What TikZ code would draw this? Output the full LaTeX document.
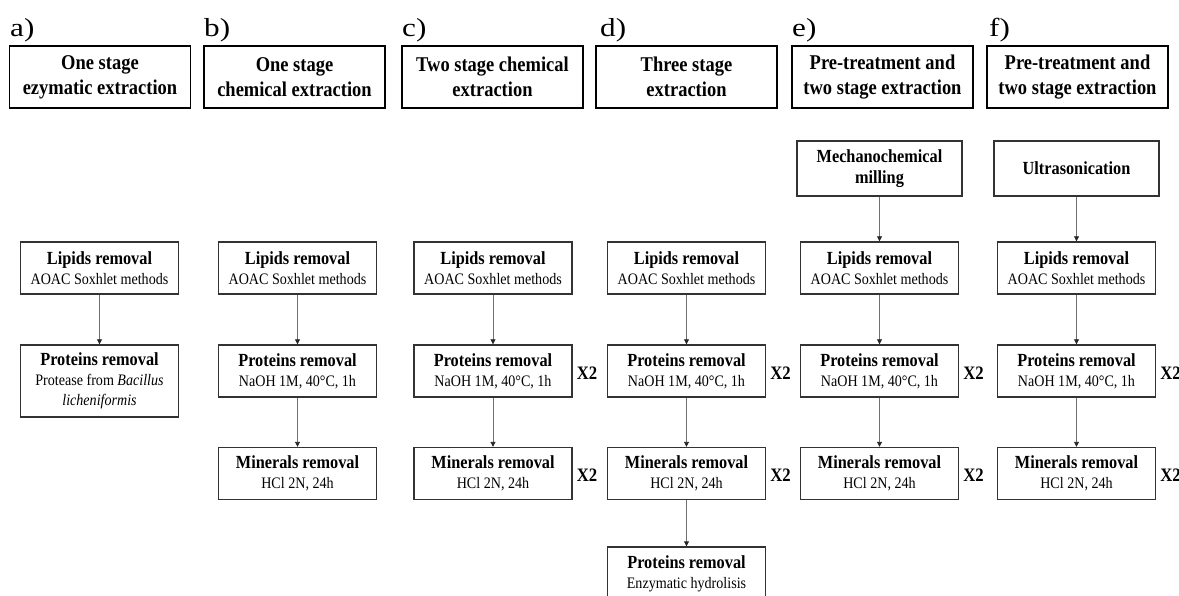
\documentclass[tikz,border=0pt]{standalone}
\usepackage{fontspec}
\setmainfont{Liberation Serif}[FakeStretch=0.88]
\newfontfamily\lblfont{Liberation Serif}[FakeStretch=1.2]
\usetikzlibrary{arrows.meta}
\definecolor{boxline}{HTML}{333333}
\definecolor{arrline}{HTML}{707070}
\tikzset{
  hdr/.style={draw=black, line width=1.2pt, minimum width=181pt, minimum height=62pt, align=center,
    font=\bfseries\fontsize{21}{25}\selectfont, inner sep=0pt},
  stepbox/.style={draw=boxline, line width=1.4pt, minimum width=158pt, minimum height=52pt, align=center,
    font=\fontsize{16}{20}\selectfont, inner sep=0pt},
  prebox/.style={stepbox, minimum width=165pt, minimum height=55pt, font=\bfseries\fontsize{18.5}{21.5}\selectfont},
  lbl/.style={anchor=base west, font=\lblfont\fontsize{26}{28}\selectfont, inner sep=0pt},
  rep/.style={anchor=west, font=\bfseries\fontsize{19}{20}\selectfont, inner sep=0pt},
  arr/.style={draw=arrline, line width=0.9pt, -{Triangle[length=5pt,width=5pt,color=black!85]}},
}
\newcommand{\ttl}[1]{{\bfseries\fontsize{18.5}{20}\selectfont #1}}
\begin{document}
\begin{tikzpicture}[x=1pt,y=-1pt]
\useasboundingbox (0,0) rectangle (1179,596);
\clip (0,0) rectangle (1179,596);
% labels
\node[lbl] (la) at (10,36.5) {a)};
\node[lbl] (lb) at (204,36.5) {b)};
\node[lbl] (lc) at (402,36.5) {c)};
\node[lbl] (ld) at (600,36.5) {d)};
\node[lbl] (le) at (792,36.5) {e)};
\node[lbl] (lf) at (989,36.5) {f)};
% headers
\node[hdr] (ha) at (100,77) {One stage\\ezymatic extraction};
\node[hdr] (hb) at (294.5,77) {One stage\\chemical extraction};
\node[hdr] (hc) at (492.5,77) {Two stage chemical\\extraction};
\node[hdr] (hd) at (686.5,77) {Three stage\\extraction};
\node[hdr] (he) at (882.5,77) {Pre-treatment and\\two stage extraction};
\node[hdr] (hf) at (1077.5,77) {Pre-treatment and\\two stage extraction};
% a
\node[stepbox] (a1) at (99.5,268) {\ttl{Lipids removal}\\AOAC Soxhlet methods};
\node[stepbox, minimum height=72pt] (a2) at (99.5,381) {\ttl{Proteins removal}\\Protease from \textit{Bacillus}\\\textit{licheniformis}};
\draw[arr] (a1) -- (a2);
% b
\node[stepbox] (b1) at (297.5,268) {\ttl{Lipids removal}\\AOAC Soxhlet methods};
\node[stepbox] (b2) at (297.5,371) {\ttl{Proteins removal}\\NaOH 1M, 40°C, 1h};
\node[stepbox] (b3) at (297.5,473.5) {\ttl{Minerals removal}\\HCl 2N, 24h};
\draw[arr] (b1) -- (b2);
\draw[arr] (b2) -- (b3);
% c
\node[stepbox] (c1) at (493,268) {\ttl{Lipids removal}\\AOAC Soxhlet methods};
\node[stepbox] (c2) at (493,371) {\ttl{Proteins removal}\\NaOH 1M, 40°C, 1h};
\node[stepbox] (c3) at (493,473.5) {\ttl{Minerals removal}\\HCl 2N, 24h};
\draw[arr] (c1) -- (c2);
\draw[arr] (c2) -- (c3);
\node[rep] (cx2) at ([xshift=4pt,yshift=-2pt]c2.east) {X2};
\node[rep] (cx3) at ([xshift=4pt,yshift=-2pt]c3.east) {X2};
% d
\node[stepbox] (d1) at (686.5,268) {\ttl{Lipids removal}\\AOAC Soxhlet methods};
\node[stepbox] (d2) at (686.5,371) {\ttl{Proteins removal}\\NaOH 1M, 40°C, 1h};
\node[stepbox] (d3) at (686.5,473.5) {\ttl{Minerals removal}\\HCl 2N, 24h};
\node[stepbox, minimum height=54pt] (d4) at (686.5,574) {\ttl{Proteins removal}\\Enzymatic hydrolisis};
\draw[arr] (d1) -- (d2);
\draw[arr] (d2) -- (d3);
\draw[arr] (d3) -- (d4);
\node[rep] (dx2) at ([xshift=4pt,yshift=-2pt]d2.east) {X2};
\node[rep] (dx3) at ([xshift=4pt,yshift=-2pt]d3.east) {X2};
% e
\node[prebox] (e0) at (879.5,168.5) {Mechanochemical\\milling};
\node[stepbox] (e1) at (879.5,268) {\ttl{Lipids removal}\\AOAC Soxhlet methods};
\node[stepbox] (e2) at (879.5,371) {\ttl{Proteins removal}\\NaOH 1M, 40°C, 1h};
\node[stepbox] (e3) at (879.5,473.5) {\ttl{Minerals removal}\\HCl 2N, 24h};
\draw[arr] (e0) -- (e1);
\draw[arr] (e1) -- (e2);
\draw[arr] (e2) -- (e3);
\node[rep] (ex2) at ([xshift=4pt,yshift=-2pt]e2.east) {X2};
\node[rep] (ex3) at ([xshift=4pt,yshift=-2pt]e3.east) {X2};
% f
\node[prebox] (f0) at (1076.5,168.5) {Ultrasonication};
\node[stepbox] (f1) at (1076.5,268) {\ttl{Lipids removal}\\AOAC Soxhlet methods};
\node[stepbox] (f2) at (1076.5,371) {\ttl{Proteins removal}\\NaOH 1M, 40°C, 1h};
\node[stepbox] (f3) at (1076.5,473.5) {\ttl{Minerals removal}\\HCl 2N, 24h};
\draw[arr] (f0) -- (f1);
\draw[arr] (f1) -- (f2);
\draw[arr] (f2) -- (f3);
\node[rep] (fx2) at ([xshift=4pt,yshift=-2pt]f2.east) {X2};
\node[rep] (fx3) at ([xshift=4pt,yshift=-2pt]f3.east) {X2};
\end{tikzpicture}
\end{document}
